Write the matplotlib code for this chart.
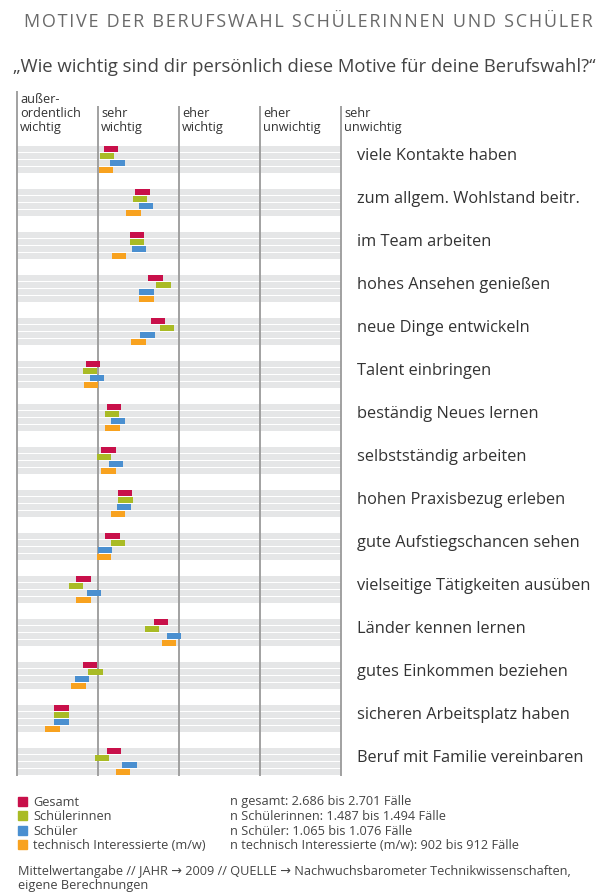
import matplotlib
matplotlib.use("Agg")
import matplotlib.pyplot as plt

plt.rcParams['font.family'] = ['Open Sans', 'DejaVu Sans']

motive = ["viele Kontakte haben", "zum allgem. Wohlstand beitr.", "im Team arbeiten",
          "hohes Ansehen genießen", "neue Dinge entwickeln", "Talent einbringen",
          "beständig Neues lernen", "selbstständig arbeiten", "hohen Praxisbezug erleben",
          "gute Aufstiegschancen sehen", "vielseitige Tätigkeiten ausüben",
          "Länder kennen lernen", "gutes Einkommen beziehen", "sicheren Arbeitsplatz haben",
          "Beruf mit Familie vereinbaren"]

gesamt = [2.16, 2.55, 2.48, 2.71, 2.74, 1.94, 2.20, 2.13, 2.33, 2.18, 1.82, 2.78, 1.90, 1.55, 2.20]
schuelerinnen = [2.11, 2.52, 2.48, 2.81, 2.85, 1.90, 2.17, 2.07, 2.34, 2.25, 1.73, 2.67, 1.97, 1.55, 2.05]
schueler = [2.24, 2.59, 2.51, 2.60, 2.61, 1.99, 2.25, 2.22, 2.32, 2.09, 1.95, 2.94, 1.80, 1.55, 2.39]
technisch = [2.10, 2.44, 2.26, 2.60, 2.50, 1.91, 2.18, 2.13, 2.25, 2.07, 1.82, 2.88, 1.76, 1.44, 2.31]

serien = ["Gesamt", "Schülerinnen", "Schüler", "technisch Interessierte (m/w)"]
farben = ["#c8104a", "#a9bb25", "#4a8fd0", "#f8a21f"]
fallzahlen = ["n gesamt: 2.686 bis 2.701 Fälle",
              "n Schülerinnen: 1.487 bis 1.494 Fälle",
              "n Schüler: 1.065 bis 1.076 Fälle",
              "n technisch Interessierte (m/w): 902 bis 912 Fälle"]
skala = ["außer-\nordentlich\nwichtig", "sehr\nwichtig", "eher\nwichtig",
         "eher\nunwichtig", "sehr\nunwichtig"]

titel = "MOTIVE DER BERUFSWAHL SCHÜLERINNEN UND SCHÜLER"
untertitel = "„Wie wichtig sind dir persönlich diese Motive für deine Berufswahl?“"

W, H = 608, 895
fig = plt.figure(figsize=(W / 100, H / 100), dpi=100)
ax = fig.add_axes([17 / W, 1 - 777 / H, 324 / W, 670 / H])
ax.set_xlim(1, 5)
ax.set_ylim(14.588, -0.993)
ax.axis('off')

schritt = 7.2 / 43
werte = [gesamt, schuelerinnen, schueler, technisch]

# graue streifen
for i in range(len(motive)):
    for j in range(4):
        ax.barh(i + j * schritt, 4, left=1, height=0.14, color="#e5e6e7", zorder=1)

# senkrechte linien
ax.vlines([1], -1.342, 14.588, color="#9a9a9a", lw=1.3, clip_on=False, zorder=2)
ax.vlines([2, 3, 4, 5], -0.993, 14.588, color="#9a9a9a", lw=1.3, clip_on=False, zorder=2)

# balken
bw = 0.177
for j, reihe in enumerate(werte):
    for i, v in enumerate(reihe):
        ax.barh(i + j * schritt, bw, left=v - bw / 2, height=0.135,
                color=farben[j], zorder=3)

# beschriftung rechts
for i, m in enumerate(motive):
    ax.text(5.198, i + 0.15, m, va='center', ha='left', fontsize=11.8,
            color="#333333", clip_on=False)

# skala oben
for k, s in enumerate(skala):
    top = 93 if k == 0 else 107
    fig.text((17 + 81 * k + 3) / W, 1 - top / H, s, va='top', ha='left',
             fontsize=9.2, color="#333333", linespacing=1.08)

# titel mit etwas sperrung (haarspatium zwischen den buchstaben)
fig.text(0.508, 1 - 22 / H, "\u200a".join(titel), ha='center', va='center',
         fontsize=13, color="#6a6a6a")
fig.text(0.5, 1 - 67 / H, untertitel, ha='center', va='center', fontsize=13.3, color="#444444")

# legende
for j in range(4):
    y = 802 + j * 14.6
    fig.patches.append(plt.Rectangle((18 / W, 1 - (y + 4.5) / H), 9 / W, 9 / H,
                                     transform=fig.transFigure, color=farben[j]))
    fig.text(33 / W, 1 - y / H, serien[j], va='center', ha='left', fontsize=9.2, color="#444444")
    fig.text(230 / W, 1 - y / H, fallzahlen[j], va='center', ha='left', fontsize=9.2, color="#444444")

fig.text(18 / W, 1 - 872 / H,
         "Mittelwertangabe // JAHR → 2009 // QUELLE → Nachwuchsbarometer Technikwissenschaften,",
         va='center', ha='left', fontsize=9.2, color="#444444")
fig.text(18 / W, 1 - 886 / H, "eigene Berechnungen", va='center', ha='left',
         fontsize=9.2, color="#444444")

fig.savefig("out.png", dpi=100, facecolor="white")
